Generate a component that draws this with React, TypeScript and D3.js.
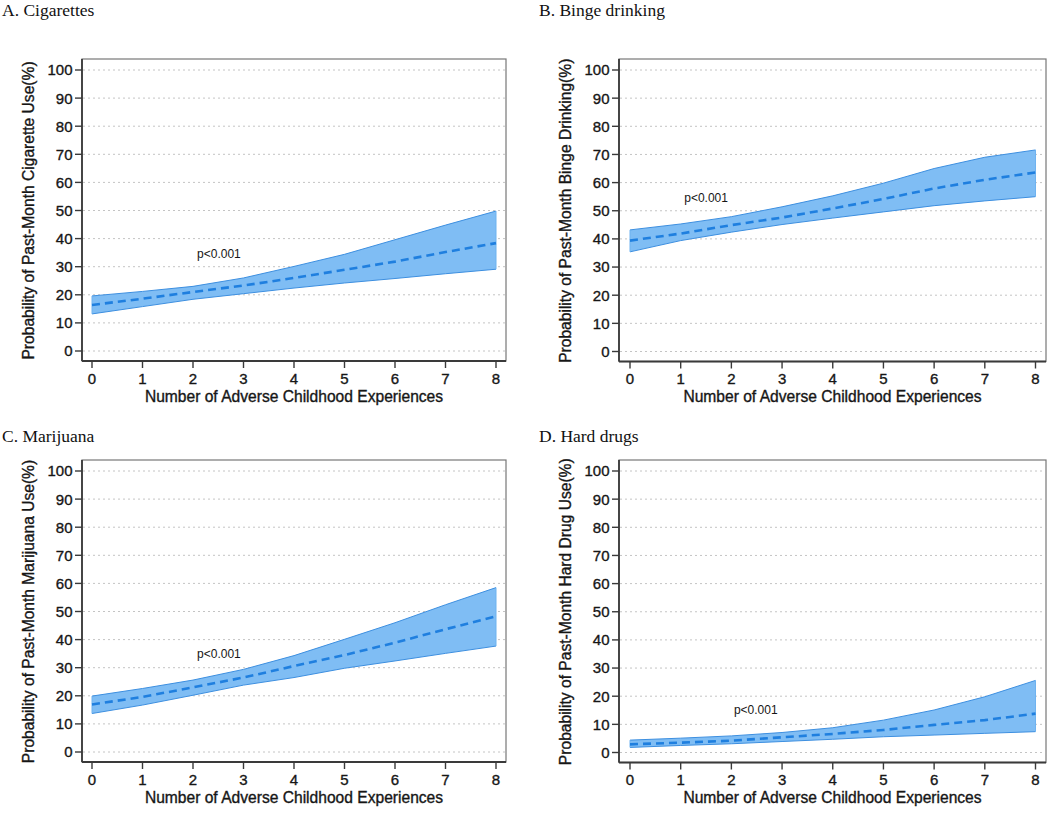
import React from "react";
import * as d3 from "d3";

const aces = [0, 1, 2, 3, 4, 5, 6, 7, 8];
const yTicks = [0, 10, 20, 30, 40, 50, 60, 70, 80, 90, 100];

const cigMean = [16.4, 18.6, 21.0, 23.3, 26.0, 28.9, 31.8, 35.2, 38.4];
const cigUpper = [19.6, 21.2, 23.0, 26.0, 30.1, 34.4, 39.6, 44.8, 49.8];
const cigLower = [13.2, 15.8, 18.4, 20.4, 22.4, 24.2, 25.8, 27.5, 29.1];

const bingeMean = [39.4, 41.9, 44.9, 47.6, 50.8, 54.2, 57.9, 61.0, 63.6];
const bingeUpper = [43.2, 45.3, 47.9, 51.4, 55.3, 59.8, 65.0, 69.0, 71.6];
const bingeLower = [35.4, 39.4, 42.4, 45.1, 47.4, 49.6, 51.8, 53.5, 55.0];

const mjMean = [16.9, 19.6, 23.0, 26.5, 30.6, 34.5, 38.9, 43.7, 48.3];
const mjUpper = [19.9, 22.6, 25.6, 29.4, 34.3, 40.1, 46.0, 52.4, 58.5];
const mjLower = [13.7, 16.7, 20.2, 23.8, 26.5, 29.8, 32.4, 35.1, 37.7];

const hdMean = [2.9, 3.5, 4.2, 5.4, 6.6, 8.0, 9.8, 11.5, 13.8];
const hdUpper = [4.4, 5.1, 5.9, 7.1, 8.8, 11.5, 15.1, 19.8, 25.6];
const hdLower = [1.8, 2.5, 3.1, 3.9, 4.7, 5.6, 6.2, 6.8, 7.4];

const panelTitles = ["A. Cigarettes", "B. Binge drinking", "C. Marijuana", "D. Hard drugs"];
const yTitles = [
  "Probability of Past-Month Cigarette Use(%)",
  "Probability of Past-Month Binge Drinking(%)",
  "Probability of Past-Month Marijuana Use(%)",
  "Probability of Past-Month Hard Drug Use(%)",
];
const xTitle = "Number of Adverse Childhood Experiences";
const pLabel = "p<0.001";
const pPos: [number, number][] = [
  [2.08, 34.7],
  [1.07, 54.5],
  [2.08, 35.0],
  [2.05, 15.1],
];

const series = [
  { mean: cigMean, upper: cigUpper, lower: cigLower },
  { mean: bingeMean, upper: bingeUpper, lower: bingeLower },
  { mean: mjMean, upper: mjUpper, lower: mjLower },
  { mean: hdMean, upper: hdUpper, lower: hdLower },
];

const layouts = [
  { fl: 82, fr: 506, x0: 92, x8: 496, ft: 59, y100: 70, y0: 351, fb: 361, tx: 2, ty: 16 },
  { fl: 619, fr: 1046, x0: 630, x8: 1035.5, ft: 59, y100: 70, y0: 351.5, fb: 361.5, tx: 539, ty: 16 },
  { fl: 82, fr: 506, x0: 92, x8: 496, ft: 460, y100: 471, y0: 752, fb: 762, tx: 2, ty: 442 },
  { fl: 619, fr: 1046, x0: 630, x8: 1035.5, ft: 460, y100: 471, y0: 752.5, fb: 762.5, tx: 539, ty: 442 },
];

const SANS = "'Liberation Sans', Arial, Helvetica, sans-serif";
const SERIF = "'Liberation Serif', 'Times New Roman', serif";
const TXT = "#161616";

function Panel({ idx }: { idx: number }) {
  const L = layouts[idx];
  const s = series[idx];
  const x = d3.scaleLinear().domain([0, 8]).range([L.x0, L.x8]);
  const y = d3.scaleLinear().domain([0, 100]).range([L.y0, L.y100]);
  const area = d3
    .area<number>()
    .x((_, i) => x(aces[i]))
    .y0((_, i) => y(s.lower[i]))
    .y1((_, i) => y(s.upper[i]));
  const line = d3
    .line<number>()
    .x((_, i) => x(aces[i]))
    .y((d) => y(d));
  const axisColor = "#3a3a3a";
  const heavy = { stroke: TXT, strokeWidth: 0.35 };
  return (
    <g>
      <text x={L.tx} y={L.ty} fontFamily={SERIF} fontSize={17.5} fill="#111">
        {panelTitles[idx]}
      </text>
      <rect
        x={L.fl}
        y={L.ft}
        width={L.fr - L.fl}
        height={L.fb - L.ft}
        fill="#fff"
        stroke="#777"
        strokeWidth={1.2}
      />
      {yTicks.map((t) => (
        <line
          key={t}
          x1={L.fl + 1}
          x2={L.fr - 1}
          y1={y(t)}
          y2={y(t)}
          stroke="#c4c4c4"
          strokeWidth={1}
          strokeDasharray="2,3"
        />
      ))}
      <path d={area(s.mean) || ""} fill="#7fbdf4" stroke="none" />
      <path d={line(s.upper) || ""} fill="none" stroke="#3d8fe0" strokeWidth={1} />
      <path d={line(s.lower) || ""} fill="none" stroke="#3d8fe0" strokeWidth={1} />
      <line
        x1={x(8)}
        x2={x(8)}
        y1={y(s.lower[8])}
        y2={y(s.upper[8])}
        stroke="#6fb3f0"
        strokeWidth={1}
      />
      <line
        x1={x(0)}
        x2={x(0)}
        y1={y(s.lower[0])}
        y2={y(s.upper[0])}
        stroke="#6fb3f0"
        strokeWidth={1}
      />
      <path
        d={line(s.mean) || ""}
        fill="none"
        stroke="#1f7fdf"
        strokeWidth={2.6}
        strokeDasharray="8,5"
      />
      <line x1={L.fl} x2={L.fl} y1={L.ft} y2={L.fb} stroke={axisColor} strokeWidth={1.8} />
      <line x1={L.fl} x2={L.fr} y1={L.fb} y2={L.fb} stroke={axisColor} strokeWidth={1.8} />
      {yTicks.map((t) => (
        <g key={"yt" + t}>
          <line x1={L.fl - 7} x2={L.fl} y1={y(t)} y2={y(t)} stroke={axisColor} strokeWidth={1.4} />
          <text
            x={L.fl - 9.5}
            y={y(t)}
            dy="0.36em"
            textAnchor="end"
            fontFamily={SANS}
            fontSize={15}
            fill={TXT}
            {...heavy}
          >
            {t}
          </text>
        </g>
      ))}
      {aces.map((a) => (
        <g key={"xt" + a}>
          <line x1={x(a)} x2={x(a)} y1={L.fb} y2={L.fb + 7} stroke={axisColor} strokeWidth={1.4} />
          <text
            x={x(a)}
            y={L.fb + 22.5}
            textAnchor="middle"
            fontFamily={SANS}
            fontSize={15}
            fill={TXT}
            {...heavy}
          >
            {a}
          </text>
        </g>
      ))}
      <text
        x={(L.fl + L.fr) / 2}
        y={L.fb + 40.5}
        textAnchor="middle"
        fontFamily={SANS}
        fontSize={15.6}
        fill={TXT}
        {...heavy}
      >
        {xTitle}
      </text>
      <text
        transform={`translate(${L.fl - 48.5},${(L.y0 + L.y100) / 2}) rotate(-90)`}
        textAnchor="middle"
        fontFamily={SANS}
        fontSize={15.6}
        fill={TXT}
        {...heavy}
      >
        {yTitles[idx]}
      </text>
      <text
        x={x(pPos[idx][0])}
        y={y(pPos[idx][1])}
        dy="0.36em"
        fontFamily={SANS}
        fontSize={12}
        fill={TXT}
      >
        {pLabel}
      </text>
    </g>
  );
}

export default function App() {
  return (
    <svg
      width={1050}
      height={817}
      style={{ position: "absolute", left: 0, top: 0, background: "#fff" }}
    >
      <rect x={0} y={0} width={1050} height={817} fill="#fff" />
      {[0, 1, 2, 3].map((i) => (
        <Panel key={i} idx={i} />
      ))}
    </svg>
  );
}
